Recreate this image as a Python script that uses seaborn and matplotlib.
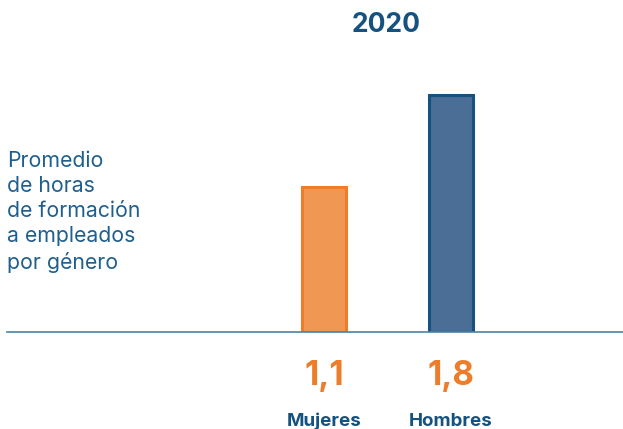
import seaborn as sns
import pandas as pd
import matplotlib.pyplot as plt
import matplotlib.transforms as mtransforms

categories = ["Mujeres", "Hombres"]
values = [1.1, 1.8]
value_labels = ["1,1", "1,8"]
fill_colors = ["#f09753", "#4a6e95"]
edge_colors = ["#ed7d2b", "#15527f"]

sns.set_theme(style="white")
plt.rcParams["font.family"] = ["Inter", "DejaVu Sans"]

dark_blue = "#15527f"
orange = "#ed7d2b"

fig = plt.figure(figsize=(6.23, 4.29), dpi=100)
ax = fig.add_axes([7 / 623, (429 - 332) / 429, 616 / 623, 263.4 / 429])

df = pd.DataFrame({"genero": categories, "horas": values})
sns.barplot(data=df, x="genero", y="horas", hue="genero", palette=fill_colors,
            width=0.346, legend=False, ax=ax, saturation=1)
for patch, ec in zip(ax.patches, edge_colors):
    patch.set_edgecolor(ec)
    patch.set_linewidth(2.2)

ax.set_ylim(0, 2.0)
ax.set_xlim(-2.496, 2.354)
ax.set_xticks([])
ax.set_yticks([])
ax.set_xlabel("")
ax.set_ylabel("")
for s in ["top", "right", "left"]:
    ax.spines[s].set_visible(False)
ax.spines["bottom"].set_color("#4a84a6")
ax.spines["bottom"].set_linewidth(1.2)

trans = mtransforms.blended_transform_factory(ax.transData, fig.transFigure)
for i, (lab, cat) in enumerate(zip(value_labels, categories)):
    ax.text(i, 1 - 376 / 429, lab, transform=trans, ha="center", va="center",
            fontsize=24, fontweight="bold", color=orange)
    ax.text(i, 1 - 421 / 429, cat, transform=trans, ha="center", va="center",
            fontsize=13.5, fontweight="bold", color=dark_blue)

fig.text(386 / 623, 1 - 25 / 429, "2020", ha="center", va="center",
         fontsize=19, fontweight="bold", color=dark_blue)

fig.text(7 / 623, 1 - 212 / 429,
         "Promedio\nde horas\nde formación\na empleados\npor género",
         ha="left", va="center", fontsize=15.3, color="#1f5f8e", linespacing=1.32)

fig.savefig("out.png", dpi=100)
